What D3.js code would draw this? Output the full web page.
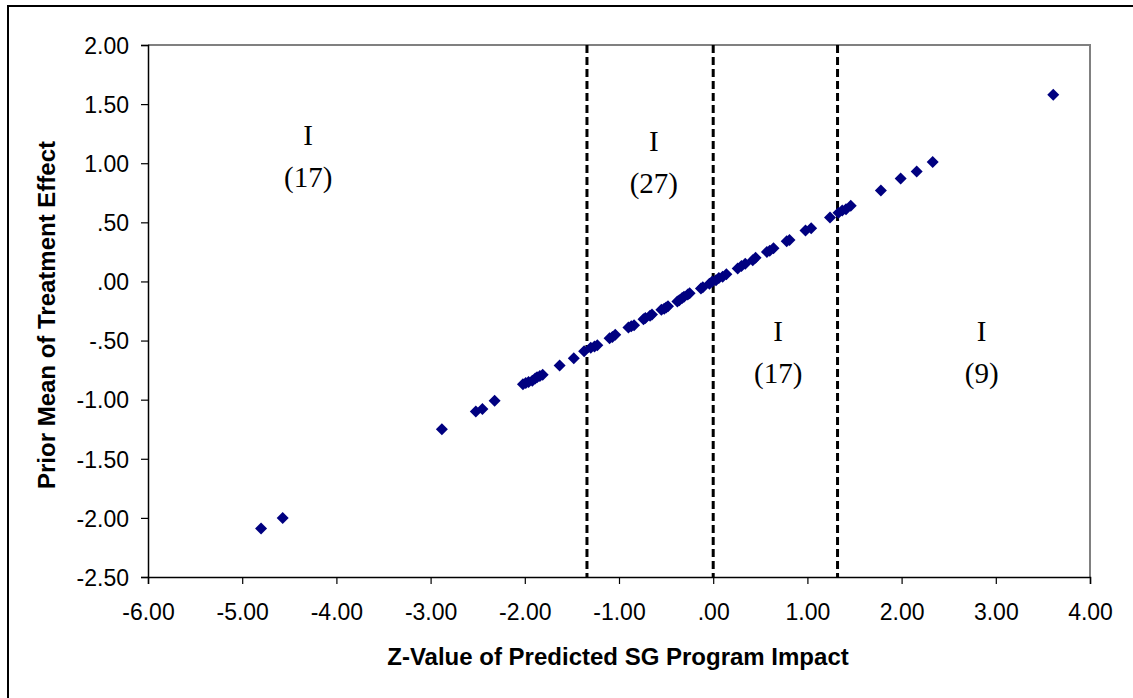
<!DOCTYPE html>
<html>
<head>
<meta charset="utf-8">
<script src="https://cdn.jsdelivr.net/npm/d3@7"></script>
<style>
  body { margin: 0; background: #fff; }
</style>
</head>
<body>
<div id="chart"></div>
<script>
// z-value vs prior mean, with cut-off lines
const zValues = [
  -4.80, -4.57, -2.88, -2.52, -2.45, -2.32, -2.02, -1.99, -1.96, -1.92, -1.89, -1.87, -1.84, -1.81, -1.63, -1.48, -1.37,
  -1.30, -1.26, -1.23, -1.10, -1.07, -1.04, -0.90, -0.87, -0.84, -0.74, -0.72, -0.67, -0.65, -0.55, -0.52, -0.50, -0.48,
  -0.38, -0.36, -0.33, -0.31, -0.27, -0.25, -0.13, -0.11, -0.04, -0.01,
  0.03, 0.06, 0.10, 0.14, 0.26, 0.30, 0.34, 0.42, 0.45, 0.57, 0.60, 0.64, 0.78, 0.81, 0.98, 1.04, 1.24,
  1.33, 1.37, 1.41, 1.46, 1.78, 1.99, 2.16, 2.33, 3.61
];
const priorMeans = [
  -2.09, -2.00, -1.25, -1.10, -1.08, -1.01, -0.87, -0.86, -0.85, -0.84, -0.82, -0.81, -0.80, -0.79, -0.71, -0.65, -0.59,
  -0.56, -0.55, -0.54, -0.48, -0.47, -0.45, -0.39, -0.38, -0.37, -0.32, -0.31, -0.29, -0.28, -0.24, -0.23, -0.22, -0.21,
  -0.17, -0.16, -0.14, -0.13, -0.11, -0.10, -0.06, -0.05, -0.02, 0.00,
  0.01, 0.03, 0.04, 0.06, 0.11, 0.13, 0.15, 0.18, 0.20, 0.25, 0.26, 0.28, 0.34, 0.35, 0.43, 0.45, 0.54,
  0.58, 0.60, 0.61, 0.64, 0.77, 0.87, 0.93, 1.01, 1.58
];
const cutLines = [-1.34, 0, 1.32];
const regionLabels = [
  { x: -4.3, y: 1.22, n: "(17)" },
  { x: -0.63, y: 1.17, n: "(27)" },
  { x: 0.69, y: -0.44, n: "(17)" },
  { x: 2.85, y: -0.44, n: "(9)" }
];
const xTicks = [-6, -5, -4, -3, -2, -1, 0, 1, 2, 3, 4];
const yTicks = [2, 1.5, 1, 0.5, 0, -0.5, -1, -1.5, -2, -2.5];

const width = 1133, height = 698;
const mLeft = 148, mRight = 1090, mTop = 45, mBottom = 577;

const fmt = v => {
  let s = d3.format(".2f")(v).replace("−", "-");
  return s.replace(/^0\./, ".").replace(/^-0\./, "-.");
};

let svg = d3.select("#chart").append("svg")
  .attr("width", width)
  .attr("height", height);

svg.append("rect")
  .attr("x", 8).attr("y", 6)
  .attr("width", 1140).attr("height", 710)
  .attr("fill", "#fff")
  .attr("stroke", "#000")
  .attr("stroke-width", 2);

let x = d3.scaleLinear().domain([-6, 4]).range([mLeft, mRight]);
let y = d3.scaleLinear().domain([-2.5, 2]).range([mBottom, mTop]);

// gray top/right frame
svg.append("path")
  .attr("d", `M${mLeft},${mTop}H${mRight}V${mBottom}`)
  .attr("fill", "none")
  .attr("stroke", "#808080")
  .attr("stroke-width", 2);

let xAxis = svg.append("g")
  .attr("transform", `translate(0,${mBottom})`)
  .call(d3.axisBottom(x).tickValues(xTicks).tickFormat(fmt).tickSize(7).tickPadding(20));
let yAxis = svg.append("g")
  .attr("transform", `translate(${mLeft},0)`)
  .call(d3.axisLeft(y).tickValues(yTicks).tickFormat(fmt).tickSize(7).tickPadding(12));

[xAxis, yAxis].forEach(g => {
  g.select(".domain").attr("stroke", "#000").attr("stroke-width", 1.5);
  g.selectAll(".tick line").attr("stroke", "#000").attr("stroke-width", 1.2);
  g.selectAll("text")
    .attr("fill", "#000")
    .style("font-family", "'Liberation Sans', Arial, sans-serif")
    .style("font-size", "23px");
});
yAxis.selectAll("text").attr("dy", "0.36em");

svg.selectAll("line.cut")
  .data(cutLines)
  .enter()
  .append("line")
  .attr("class", "cut")
  .attr("x1", d => x(d)).attr("x2", d => x(d))
  .attr("y1", mTop).attr("y2", mBottom)
  .attr("stroke", "#000")
  .attr("stroke-width", 3)
  .attr("stroke-dasharray", "8,4");

const diamond = d3.symbol().type(d3.symbolSquare).size(72);
svg.selectAll("path.pt")
  .data(d3.zip(zValues, priorMeans))
  .enter()
  .append("path")
  .attr("class", "pt")
  .attr("d", diamond)
  .attr("transform", d => `translate(${x(d[0])},${y(d[1])}) rotate(45)`)
  .attr("fill", "#000080");

let lab = svg.selectAll("g.lab")
  .data(regionLabels)
  .enter()
  .append("g")
  .attr("class", "lab")
  .attr("transform", d => `translate(${x(d.x)},${y(d.y) + 8})`)
  .style("font-family", "'Liberation Serif', 'Times New Roman', serif")
  .style("font-size", "29px")
  .attr("text-anchor", "middle");
lab.append("text").attr("y", 0).text("I");
lab.append("text").attr("y", 42).text(d => d.n);

svg.append("text")
  .attr("x", 618)
  .attr("y", 665)
  .attr("text-anchor", "middle")
  .style("font-family", "'Liberation Sans', Arial, sans-serif")
  .style("font-weight", "bold")
  .style("font-size", "24px")
  .text("Z-Value of Predicted SG Program Impact");

svg.append("text")
  .attr("transform", `translate(55,315) rotate(-90)`)
  .attr("text-anchor", "middle")
  .style("font-family", "'Liberation Sans', Arial, sans-serif")
  .style("font-weight", "bold")
  .style("font-size", "24px")
  .text("Prior Mean of Treatment Effect");
</script>
</body>
</html>
